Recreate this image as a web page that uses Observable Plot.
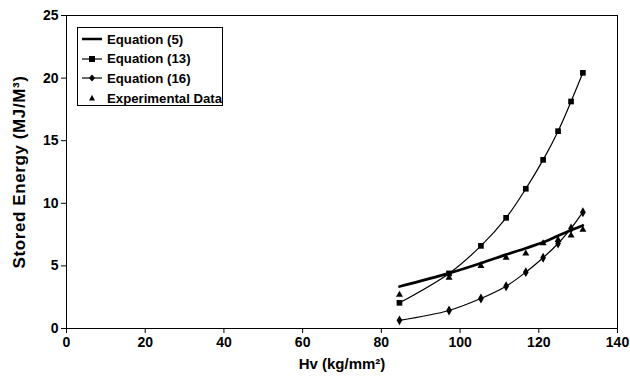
<!DOCTYPE html>
<html>
<head>
<meta charset="utf-8">
<script src="https://cdn.jsdelivr.net/npm/d3@7"></script>
<script src="https://cdn.jsdelivr.net/npm/@observablehq/plot@0.6"></script>
<style>
  html, body { margin: 0; padding: 0; background: #fff; }
  #wrap { position: relative; width: 630px; height: 376px; font-family: "Liberation Sans", Arial, sans-serif; }
  #legend { position: absolute; left: 77px; top: 27px; width: 146px; height: 79px; border: 1px solid #000; background: #fff; box-sizing: border-box; }
  .row { position: absolute; left: 0; height: 20px; display: flex; align-items: center; font-weight: bold; font-size: 13.2px; color: #000; white-space: nowrap; }
  .row svg { margin-left: 4px; margin-right: 5px; }
  g.ytitle text { letter-spacing: 0.6px; }
</style>
</head>
<body>
<div id="wrap">
  <div id="chart"></div>
  <div id="legend"></div>
</div>
<script>
const hv = [84.6, 97.2, 105.3, 111.7, 116.7, 121.1, 124.9, 128.2, 131.2];
const eq5 = [3.35, 4.42, 5.22, 5.9, 6.41, 6.89, 7.4, 7.85, 8.23];
const eq13 = [2.05, 4.4, 6.6, 8.84, 11.16, 13.47, 15.76, 18.13, 20.42];
const eq16 = [0.65, 1.44, 2.4, 3.38, 4.5, 5.65, 6.79, 7.99, 9.29];
const expData = [2.69, 4.05, 5.0, 5.65, 5.99, 6.81, 7.08, 7.43, 7.88];
const xTicks = [0, 20, 40, 60, 80, 100, 120, 140];
const yTicks = [0, 5, 10, 15, 20, 25];
const seriesNames = ["Equation (5)", "Equation (13)", "Equation (16)", "Experimental Data"];
const xTitle = "Hv (kg/mm²)";
const yTitle = "Stored Energy (MJ/M³)";

const toRows = (vals) => hv.map((h, i) => ({hv: h, v: vals[i]}));
const d5 = toRows(eq5), d13 = toRows(eq13), d16 = toRows(eq16), dExp = toRows(expData);

const plot = Plot.plot({
  width: 630,
  height: 376,
  marginLeft: 66,
  marginRight: 13,
  marginTop: 15,
  marginBottom: 48,
  style: {fontFamily: '"Liberation Sans", Arial, sans-serif', fontSize: "14px", fontWeight: "bold", color: "#000", background: "#fff", overflow: "visible"},
  x: {domain: [0, 140], ticks: xTicks, label: null},
  y: {domain: [0, 25], ticks: yTicks, label: null},
  marks: [
    Plot.frame({stroke: "#000", strokeWidth: 1}),
    Plot.axisX({ticks: xTicks, tickSize: 5, tickPadding: 4, fontSize: 14, fontWeight: "bold", label: null}),
    Plot.axisY({ticks: yTicks, tickSize: 5, tickPadding: 3, fontSize: 14, fontWeight: "bold", label: null}),
    Plot.text([xTitle], {frameAnchor: "bottom", dy: 40, fontSize: 15, fontWeight: "bold", text: d => d, className: "xtitle"}),
    Plot.text([yTitle], {frameAnchor: "left", textAnchor: "middle", dx: -47, rotate: -90, fontSize: 17, fontWeight: "bold", text: d => d, className: "ytitle"}),
    Plot.line(d5, {x: "hv", y: "v", stroke: "#000", strokeWidth: 2.7, curve: "catmull-rom"}),
    Plot.line(d13, {x: "hv", y: "v", stroke: "#000", strokeWidth: 1.2, curve: "catmull-rom"}),
    Plot.dot(d13, {x: "hv", y: "v", symbol: "square", r: 3.2, fill: "#000"}),
    Plot.line(d16, {x: "hv", y: "v", stroke: "#000", strokeWidth: 1.2, curve: "catmull-rom"}),
    Plot.dot(d16, {x: "hv", y: "v", symbol: "diamond", r: 3, fill: "#000"}),
    Plot.dot(dExp, {x: "hv", y: "v", symbol: "triangle", r: 2.6, fill: "#000"})
  ]
});
document.getElementById("chart").appendChild(plot);

// legend
const legend = document.getElementById("legend");
const sym = [
  '<line x1="0" y1="6" x2="20" y2="6" stroke="#000" stroke-width="2.5"/>',
  '<line x1="0" y1="6" x2="20" y2="6" stroke="#000" stroke-width="1.2"/><rect x="7" y="3" width="6" height="6" fill="#000"/>',
  '<line x1="0" y1="6" x2="20" y2="6" stroke="#000" stroke-width="1.2"/><path d="M10,2.5 L13,6 L10,9.5 L7,6 Z" fill="#000"/>',
  '<path d="M10,2.8 L13,8.5 L7,8.5 Z" fill="#000"/>'
];
seriesNames.forEach((name, i) => {
  const row = document.createElement("div");
  row.className = "row";
  row.style.top = (1 + i * 19.7) + "px";
  row.innerHTML = '<svg width="20" height="12">' + sym[i] + '</svg><span>' + name + '</span>';
  legend.appendChild(row);
});
</script>
</body>
</html>
